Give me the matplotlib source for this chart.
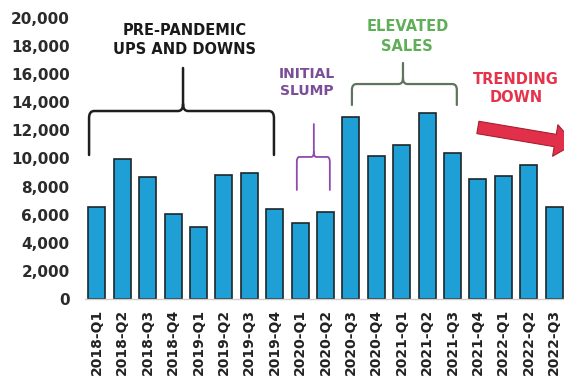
import matplotlib
matplotlib.use('Agg')
import matplotlib.pyplot as plt
from matplotlib.path import Path
from matplotlib.patches import PathPatch
from matplotlib.ticker import FuncFormatter

plt.rcParams['font.family'] = 'DejaVu Sans'
plt.rcParams['font.weight'] = 'bold'

quarters = ['2018-Q1', '2018-Q2', '2018-Q3', '2018-Q4',
            '2019-Q1', '2019-Q2', '2019-Q3', '2019-Q4',
            '2020-Q1', '2020-Q2', '2020-Q3', '2020-Q4',
            '2021-Q1', '2021-Q2', '2021-Q3', '2021-Q4',
            '2022-Q1', '2022-Q2', '2022-Q3']
sales = [6550, 9990, 8690, 6060, 5150, 8830, 8970, 6430,
         5390, 6220, 12980, 10180, 10940, 13260, 10410, 8520,
         8750, 9510, 6570]
y_ticks = list(range(0, 20001, 2000))

bar_color = '#1e9fd6'
edge_color = '#1d262b'

fig = plt.figure(figsize=(5.64, 3.78), dpi=100)
ax = fig.add_axes([85 / 564, 79 / 378, 1 - 85 / 564, 281 / 378])

x = range(len(quarters))
ax.bar(x, sales, width=0.67, color=bar_color, edgecolor=edge_color, linewidth=1.2)

ax.set_xlim(-0.47, 18.39)
ax.set_ylim(0, 20000)
ax.set_yticks(y_ticks)
ax.yaxis.set_major_formatter(FuncFormatter(lambda v, p: f'{int(v):,}'))
ax.set_xticks(list(x))
ax.set_xticklabels(quarters, rotation=90)
ax.tick_params(axis='y', length=0, pad=11, labelsize=11, labelcolor='#2b2b2b')
ax.tick_params(axis='x', length=0, pad=7, labelsize=10, labelcolor='#222222')

for s in ['top', 'right', 'left']:
    ax.spines[s].set_visible(False)
ax.spines['bottom'].set_color('#cfcfcf')
ax.spines['bottom'].set_linewidth(1.0)


def brace(x0, x1, xp, yb, ys, yt, color, rx=0.22, ry=500, lw=1.6):
    verts = [(x0, yb), (x0, ys - ry), (x0, ys), (x0 + rx, ys),
             (xp - rx, ys), (xp, ys), (xp, ys + ry), (xp, yt),
             (xp, ys + ry), (xp, ys), (xp + rx, ys),
             (x1 - rx, ys), (x1, ys), (x1, ys - ry), (x1, yb)]
    codes = [Path.MOVETO, Path.LINETO, Path.CURVE3, Path.CURVE3,
             Path.LINETO, Path.CURVE3, Path.CURVE3, Path.LINETO,
             Path.MOVETO, Path.CURVE3, Path.CURVE3,
             Path.LINETO, Path.CURVE3, Path.CURVE3, Path.LINETO]
    ax.add_patch(PathPatch(Path(verts, codes), fill=False, edgecolor=color,
                           linewidth=lw, clip_on=False, capstyle='round'))


# pre-pandemic
brace(-0.31, 6.97, 3.39, 10250, 13380, 16440, '#1e1e1e', rx=0.2, ry=500, lw=1.8)
ax.text(3.46, 18430, 'PRE-PANDEMIC\nUPS AND DOWNS', ha='center', va='center',
        fontsize=10.5, color='#1a1a1a', linespacing=1.35)

# initial slump
brace(7.87, 9.17, 8.54, 7760, 10110, 12450, '#9049ad', rx=0.1, ry=350, lw=1.3)
ax.text(8.27, 15410, 'INITIAL\nSLUMP', ha='center', va='center',
        fontsize=10, color='#7a4f98', linespacing=1.35)

# elevated sales
brace(10.04, 14.17, 12.05, 13810, 15300, 16800, '#5d745d', rx=0.18, ry=420, lw=1.6)
ax.text(12.22, 18680, 'ELEVATED\nSALES', ha='center', va='center',
        fontsize=10.5, color='#5fae58', linespacing=1.35)

# trending down
ax.text(16.49, 14980, 'TRENDING\nDOWN', ha='center', va='center',
        fontsize=10.5, color='#e6334c', linespacing=1.3)
ax.annotate('', xy=(18.8, 11050), xytext=(15.0, 12210),
            annotation_clip=False,
            arrowprops=dict(arrowstyle='simple,head_length=0.7,head_width=1.15,tail_width=0.45',
                            mutation_scale=20, facecolor='#e3304a',
                            edgecolor='#a51f30', linewidth=0.8,
                            shrinkA=0, shrinkB=0))

fig.savefig('out.png', dpi=100)
